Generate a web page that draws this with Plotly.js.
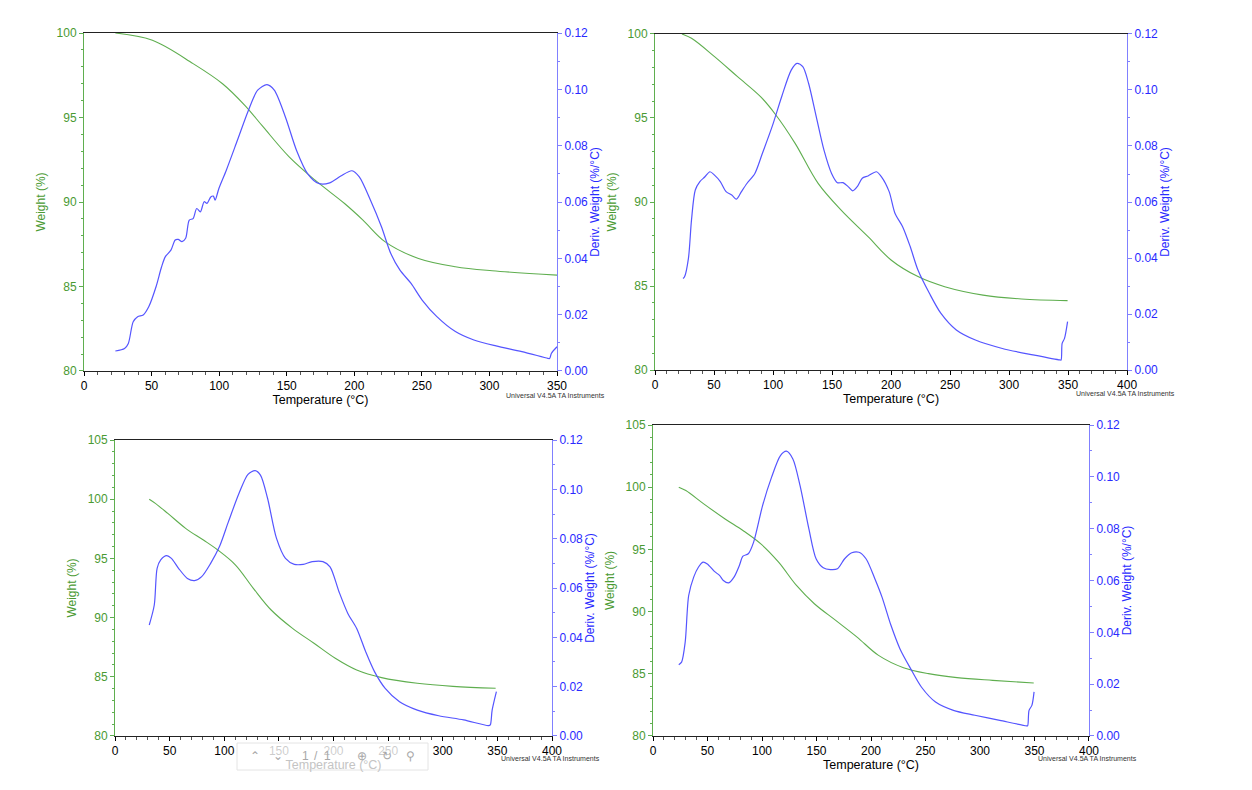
<!DOCTYPE html>
<html><head><meta charset="utf-8">
<script src="https://cdn.plot.ly/plotly-3.0.1.min.js"></script>
<style>html,body{margin:0;padding:0;background:#fff;}#chart{width:1252px;height:790px;}</style>
</head><body><div id="chart"></div>
<script>
// Panel 1
const temp1W = [23.2,50.6,80.7,102.5,119,132.6,151.8,171,192.8,206.4,222.9,247.5,274.8,302,350];
const weight1 = [100,99.57,98.19,97.0,95.72,94.44,92.67,91.29,89.91,88.93,87.64,86.66,86.17,85.93,85.67];
const temp1D = [23.2,30,32.8,36.4,39.7,43.8,47.9,53.3,57.4,60.2,64.3,67.5,69.7,72.5,75.2,77.9,80.7,83.4,86.1,88.9,91,93.8,95.7,97,99.8,105.3,113.5,121.7,128.5,135.4,140.8,149,157.2,165.4,173.6,181.8,190,198.3,203.7,211.9,220.1,227,233.8,242,250.2,261.1,274.8,288.5,304.9,324,343.2,344.5,345.9,350];
const deriv1 = [0.0071,0.0080,0.0098,0.0175,0.0193,0.0199,0.0228,0.0299,0.037,0.0406,0.0429,0.0465,0.0467,0.0459,0.0471,0.0536,0.0541,0.0577,0.0565,0.0601,0.0595,0.0618,0.0621,0.0607,0.0648,0.0713,0.0819,0.0926,0.0997,0.1017,0.0997,0.0902,0.0784,0.0701,0.0666,0.0668,0.0692,0.0711,0.0689,0.0607,0.0512,0.0417,0.0358,0.0311,0.0252,0.0193,0.0140,0.0110,0.0089,0.0069,0.0045,0.0044,0.0063,0.0086];
// Panel 2
const temp2W = [22.8,30.9,50.4,69.9,89.4,102.4,118.7,138.2,157.7,180.5,200,222.8,245.5,278,310.6,349.6];
const weight2 = [100,99.74,98.65,97.46,96.27,95.18,93.49,91.11,89.52,87.94,86.55,85.56,84.96,84.46,84.23,84.13];
const temp2D = [23.7,25,28.3,30.9,34.1,38,42.3,46.5,50.4,55.3,60.2,65,69,73.2,78,84.6,91,99.2,107.3,115.4,120.3,125.2,130.1,136.6,143.1,149.6,154.5,159.3,163.6,167.5,171.4,175.6,180.5,187.6,191.9,198.4,203.3,209.8,216.3,222.8,232.5,242.3,255.3,271.5,294.3,320.3,343.1,344.1,345,347,349.6];
const deriv2 = [0.0327,0.0333,0.0399,0.0536,0.0643,0.0673,0.069,0.0708,0.0696,0.0673,0.0637,0.0625,0.061,0.0637,0.0667,0.0702,0.0774,0.0869,0.0976,0.1071,0.1095,0.1083,0.1024,0.0905,0.0786,0.0702,0.0669,0.0669,0.0655,0.064,0.0655,0.0685,0.0693,0.0708,0.069,0.0637,0.056,0.0512,0.044,0.0357,0.0274,0.0202,0.0143,0.0107,0.0077,0.0054,0.0036,0.0036,0.0095,0.0113,0.0173];
// Panel 3
const temp3W = [31.3,36.9,48.3,64.6,80.9,94,110.3,126.6,142.9,162.5,182.1,201.6,221.2,244,276.7,309.3,348.4];
const weight3 = [100,99.65,98.8,97.54,96.55,95.71,94.44,92.47,90.64,89.09,87.83,86.56,85.57,84.93,84.45,84.19,84.03];
const temp3D = [31.3,35.9,38.5,41.8,47.3,51.6,58.1,66.2,72.8,79.3,87.5,95.6,103.8,113.5,121.7,128.2,133.1,139.6,147.8,156,164.1,172.3,180.5,190.3,196.8,205,213.1,221.2,229.4,237.5,247.3,260.4,276.7,296.3,319.1,341.9,343.5,345.2,349.1];
const deriv3 = [0.045,0.0531,0.068,0.0714,0.0731,0.072,0.068,0.0639,0.063,0.0646,0.07,0.0768,0.0869,0.0984,0.1061,0.1076,0.1058,0.0964,0.0801,0.072,0.0696,0.0696,0.0707,0.0707,0.0686,0.0585,0.0497,0.0436,0.0342,0.0261,0.0193,0.0139,0.0105,0.0082,0.0065,0.0042,0.0045,0.0105,0.018];
// Panel 4
const temp4W = [23.6,30.1,46.5,66.1,82.5,98.9,115.2,131.6,148,167.6,187.2,206.9,229.8,252.7,278.9,311.6,349.3];
const weight4 = [100,99.73,98.66,97.45,96.52,95.44,93.97,92.1,90.63,89.29,87.95,86.48,85.49,85.01,84.69,84.47,84.26];
const temp4D = [23.6,26.2,29.5,32.7,37.3,41.6,45.8,49.8,56.3,61.2,64.5,69.4,74.3,79.2,82.5,87.4,92.3,100.5,108.7,116.9,122.4,128.3,134.9,143,149.6,156.2,162.7,169.2,175.8,182.3,188.9,195.4,203.6,210.1,218.3,226.5,236.3,246.2,259.2,275.6,295.3,318.2,342.7,343.7,345,347.6,349.6];
const deriv4 = [0.0275,0.0285,0.0362,0.0542,0.0613,0.0651,0.0671,0.0664,0.0635,0.0619,0.06,0.0591,0.0613,0.0658,0.0694,0.0703,0.0748,0.0889,0.0998,0.1082,0.1099,0.1069,0.0966,0.0799,0.0684,0.0649,0.0642,0.0645,0.0684,0.0707,0.0709,0.0684,0.0606,0.0536,0.0427,0.0337,0.026,0.0189,0.0131,0.0099,0.008,0.006,0.0039,0.0039,0.0099,0.0118,0.017];

const xTitle = 'Temperature (°C)';
const yLeftTitle = 'Weight (%)';
const yRightTitle = 'Deriv. Weight (%/°C)';
const credit = 'Universal V4.5A TA Instruments';
// PDF viewer toolbar glyphs (screenshot artifact) and their pixel x positions
const toolbarGlyphs = ['&#8963;', '&#8964;', '1', '/', '1', '&#8853;', '&#8635;', '&#9906;'];
const toolbarGlyphX = [255, 278, 305, 316, 327, 362, 387, 410];

const GREEN_LINE = '#5fae4f';
const GREEN_TXT = '#4a9a32';
const BLUE_LINE = '#5555ff';
const BLUE_TXT = '#2a2aff';
const FONT = 'Arial, "Liberation Sans", sans-serif';

const panels = [
  {tw: temp1W, w: weight1, td: temp1D, d: deriv1, x:'x', yl:'y', yr:'y2', xd:[0.0671,0.4449], yd:[0.5304,0.9582], xr:[0,350], yr0:[80,100], cr:[0.444,0.500]},
  {tw: temp2W, w: weight2, td: temp2D, d: deriv2, x:'x2', yl:'y3', yr:'y4', xd:[0.5232,0.9002], yd:[0.5316,0.9570], xr:[0,400], yr0:[80,100], cr:[0.8986,0.5025]},
  {tw: temp3W, w: weight3, td: temp3D, d: deriv3, x:'x3', yl:'y5', yr:'y6', xd:[0.0919,0.4409], yd:[0.0684,0.4430], xr:[0,400], yr0:[80,105], cr:[0.440,0.0405]},
  {tw: temp4W, w: weight4, td: temp4D, d: deriv4, x:'x4', yl:'y7', yr:'y8', xd:[0.5216,0.8698], yd:[0.0684,0.4620], xr:[0,400], yr0:[80,105], cr:[0.869,0.0405]}
];

const data = [];
const layout = {
  width:1252, height:790, margin:{l:0,r:0,t:0,b:0},
  paper_bgcolor:'#fff', plot_bgcolor:'#fff', showlegend:false,
  font:{family:FONT, size:12, color:'#000'},
  annotations:[], shapes:[]
};

function axName(id){ return id.length===1 ? id+'axis' : id[0]+'axis'+id.slice(1); }

panels.forEach((p,i)=>{
  data.push({x:p.tw, y:p.w, xaxis:p.x, yaxis:p.yl, type:'scatter', mode:'lines',
    line:{color:GREEN_LINE, width:1.1, shape:'spline', smoothing:1.0}, hoverinfo:'skip'});
  data.push({x:p.td, y:p.d, xaxis:p.x, yaxis:p.yr, type:'scatter', mode:'lines',
    line:{color:BLUE_LINE, width:1.2, shape:'spline', smoothing:0.8}, hoverinfo:'skip'});
  layout[axName(p.x)] = {
    domain:p.xd, anchor:p.yl, range:p.xr, dtick:50, tick0:0,
    showgrid:false, zeroline:false, showline:true, linecolor:'#222', linewidth:1,
    mirror:true, ticks:'outside', ticklen:4, tickcolor:'#000',
    minor:{dtick:10, ticks:'outside', ticklen:3, tickcolor:'#555', showgrid:false},
    tickfont:{family:FONT, size:12, color:'#000'},
    title:{text:xTitle, font:{family:FONT, size:12.5, color: i===2 ? '#c4c4c4' : '#000'}, standoff:0}
  };
  layout[axName(p.yl)] = {
    domain:p.yd, anchor:p.x, range:p.yr0, dtick:5, tick0:80,
    showgrid:false, zeroline:false, showline:true, linecolor:GREEN_LINE, linewidth:1,
    ticks:'outside', ticklen:4, tickcolor:GREEN_LINE,
    minor:{dtick:1, ticks:'outside', ticklen:2, tickcolor:GREEN_LINE, showgrid:false},
    tickfont:{family:FONT, size:12, color:GREEN_TXT},
    title:{text:yLeftTitle, font:{family:FONT, size:12, color:GREEN_TXT}, standoff:8}
  };
  layout[axName(p.yr)] = {
    overlaying:p.yl, anchor:p.x, side:'right', range:[0,0.12], dtick:0.02, tick0:0,
    tickformat:'.2f',
    showgrid:false, zeroline:false, showline:true, linecolor:'#8080ff', linewidth:1,
    ticks:'outside', ticklen:4, tickcolor:'#8080ff',
    minor:{dtick:0.01, ticks:'outside', ticklen:2, tickcolor:'#8080ff', showgrid:false},
    tickfont:{family:FONT, size:12, color:BLUE_TXT},
    title:{text:yRightTitle, font:{family:FONT, size:12, color:BLUE_TXT}, standoff:2}
  };
  layout.annotations.push({xref:'paper', yref:'paper', x:p.cr[0], y:p.cr[1], xanchor:'center', yanchor:'middle',
    text:credit, showarrow:false, font:{family:FONT, size:7, color:'#333'}});
});

// PDF viewer toolbar overlay in lower-left panel (screenshot artifact)
const tbx0 = 237/1252, tbx1 = 428/1252, tby0 = 1-770/790, tby1 = 1-743/790;
layout.shapes.push({type:'rect', xref:'paper', yref:'paper', x0:tbx0, x1:tbx1, y0:tby0, y1:tby1,
  layer:'above', fillcolor:'rgba(255,255,255,0.8)', line:{color:'#e4e4e4', width:1}});
toolbarGlyphs.forEach((g,k)=>{
  layout.annotations.push({xref:'paper', yref:'paper', x:toolbarGlyphX[k]/1252, y:1-756/790, xanchor:'center', yanchor:'middle',
    text:g, showarrow:false, font:{family:FONT, size:12, color:'#a8a8a8'}});
});

Plotly.newPlot('chart', data, layout, {staticPlot:true, displayModeBar:false});
</script>
</body></html>
